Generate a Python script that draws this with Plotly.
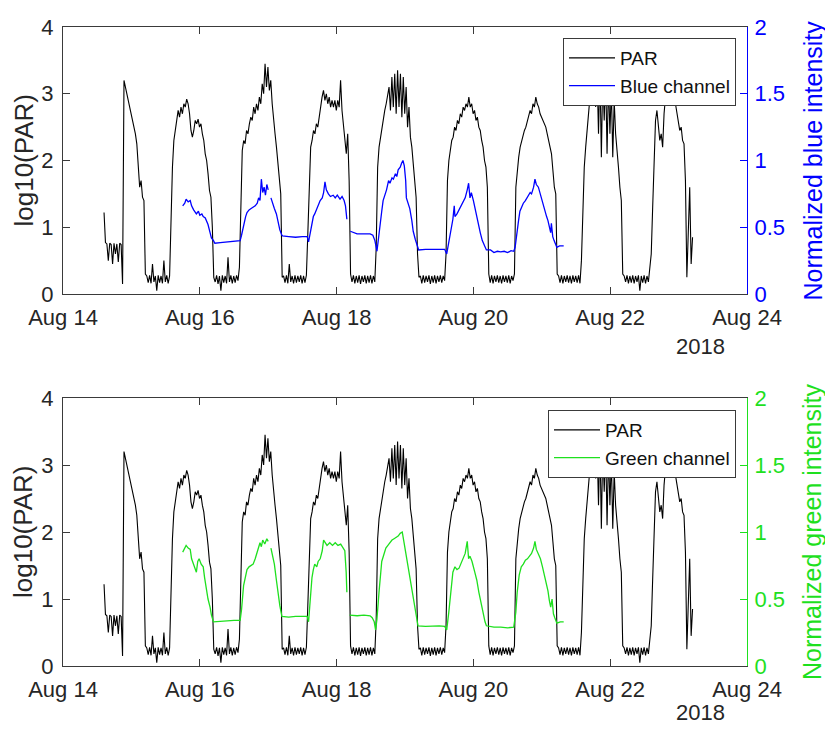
import numpy as np
import pandas as pd
import plotly.graph_objects as go

# ---------------- data ----------------
# PAR (log10) sampled every 30 min starting 2018-08-14 14:24; one list per daily cycle
par_aug14 = [1.22, 0.77, 0.75, 0.5, 0.76, 0.74, 0.45, 0.76, 0.6, 0.75, 0.48, 0.76, 0.74, 0.15,
             3.2, 3.1, 3.05, 2.95, 2.85, 2.72, 2.65, 2.55, 2.4, 2.25, 1.85, 1.6, 1.7, 1.45, 1.4, 0.3,
             0.27, 0.17, 0.28, 0.16, 0.45, 0.18, 0.27, 0.05, 0.28, 0.17, 0.27, 0.16, 0.5, 0.18, 0.28, 0.16, 0.27,
             1.2]
par_aug15 = [1.9, 2.3, 2.45, 2.6, 2.75, 2.65, 2.8, 2.7, 2.85, 2.8, 2.92, 2.85, 2.7, 2.45, 2.35,
             2.45, 2.6, 2.55, 2.62, 2.5, 2.55, 2.4, 2.3, 2.1, 2.0, 1.8, 1.55, 1.45, 1.0, 0.25,
             0.18, 0.28, 0.15, 0.27, 0.05, 0.28, 0.17, 0.27, 0.16, 0.55, 0.18, 0.28, 0.16, 0.27, 0.17, 0.28, 0.2,
             0.4]
par_aug16 = [1.3, 2.15, 2.3, 2.25, 2.45, 2.4, 2.55, 2.65, 2.6, 2.8, 2.7, 2.85, 2.75, 2.95, 2.85,
             3.15, 3.0, 3.45, 3.1, 3.4, 3.05, 3.2, 2.85, 2.55, 2.4, 2.2, 2.0, 1.75, 1.5, 0.25,
             0.27, 0.17, 0.28, 0.16, 0.45, 0.18, 0.27, 0.16, 0.28, 0.17, 0.27, 0.18, 0.28, 0.16, 0.27, 0.17, 0.28,
             0.9]
par_aug17 = [1.6, 2.2, 2.3, 2.45, 2.4, 2.55, 2.5, 2.7, 2.8, 2.95, 3.05, 2.9, 3.0, 2.85, 2.95,
             2.8, 2.9, 2.8, 2.9, 2.75, 2.9, 2.8, 3.2, 2.75, 2.5, 2.3, 2.1, 2.4, 1.7, 0.3,
             0.18, 0.28, 0.16, 0.27, 0.17, 0.28, 0.15, 0.27, 0.18, 0.28, 0.16, 0.27, 0.17, 0.28, 0.16, 0.27, 0.18,
             0.7]
par_aug18 = [1.9, 2.2, 2.35, 2.5, 2.6, 2.75, 2.85, 2.95, 3.1, 2.75, 3.25, 2.8, 3.3, 2.7, 3.35,
             2.8, 3.3, 2.65, 3.25, 2.7, 3.1, 2.5, 2.8, 2.35, 2.2, 1.95, 1.7, 1.45, 0.6, 0.25,
             0.27, 0.16, 0.28, 0.17, 0.27, 0.18, 0.28, 0.15, 0.27, 0.17, 0.28, 0.16, 0.27, 0.18, 0.28, 0.17, 0.27,
             0.2]
par_aug19 = [0.6, 1.7, 2.0, 2.2, 2.3, 2.35, 2.5, 2.45, 2.6, 2.55, 2.7, 2.65, 2.8, 2.75, 2.85,
             2.8, 2.95, 2.8, 2.85, 2.7, 2.75, 2.6, 2.65, 2.5, 2.45, 2.3, 2.2, 2.0, 1.9, 1.6,
             0.3, 0.17, 0.28, 0.16, 0.27, 0.18, 0.28, 0.17, 0.27, 0.16, 0.28, 0.18, 0.27, 0.17, 0.28, 0.16, 0.27,
             0.2]
par_aug20 = [0.3, 1.6, 1.9, 2.05, 2.2, 2.3, 2.35, 2.45, 2.5, 2.6, 2.65, 2.75, 2.7, 2.85, 2.8,
             2.95, 2.85, 2.8, 2.7, 2.65, 2.6, 2.55, 2.5, 2.4, 2.3, 2.2, 2.1, 1.85, 1.6, 1.5,
             0.3, 0.27, 0.17, 0.28, 0.16, 0.27, 0.18, 0.28, 0.17, 0.27, 0.16, 0.28, 0.18, 0.27, 0.17, 0.28, 0.16,
             0.5]
par_aug21 = [1.4, 1.9, 2.2, 2.5, 2.8, 2.95, 3.1, 3.2, 3.3, 2.8, 3.3, 2.4, 3.35, 2.05, 3.3,
             2.6, 3.3, 2.1, 3.2, 2.4, 3.1, 2.05, 2.9, 2.4, 2.2, 1.9, 1.6, 1.4, 0.3,
             0.27, 0.18, 0.28, 0.16, 0.27, 0.17, 0.28, 0.16, 0.27, 0.18, 0.28, 0.05, 0.27, 0.17, 0.28, 0.16, 0.27, 0.18,
             0.4]
par_aug22 = [0.6, 1.3, 1.9, 2.6, 2.75, 2.5, 2.3, 2.4, 2.2, 2.7, 2.95, 3.0, 2.95, 3.05, 2.9,
             3.0, 2.95, 2.85, 2.7, 2.55, 2.45, 2.5, 2.3, 2.25, 1.7, 0.25, 0.85, 1.6, 0.45, 0.85]

# Blue channel: time in days since 2018-08-14 00:00, normalized intensity (None = gap)
blue_day = [1.75, 1.78, 1.80, 1.83, 1.86, 1.88, 1.91, 1.93, 1.95, 1.98, 2.00, 2.03, 2.05, 2.08, 2.10,
            2.12, 2.15, 2.17, 2.20, 2.22, 2.30, 2.40, 2.50, 2.59, 2.61, 2.64, 2.67, 2.69, 2.72, 2.75,
            2.78, 2.81, 2.84, 2.86, 2.88, 2.90, 2.92, 2.94, 2.96, 2.98, 3.00, 3.01, 3.04, 3.06, 3.09,
            3.12, 3.15, 3.17, 3.20, 3.21, 3.30, 3.40, 3.50, 3.57, 3.59, 3.62, 3.64, 3.66, 3.68, 3.71,
            3.73, 3.76, 3.79, 3.81, 3.83, 3.85, 3.88, 3.91, 3.95, 3.98, 4.01, 4.05, 4.08, 4.11, 4.13,
            4.15, 4.17, 4.20, 4.30, 4.40, 4.49, 4.53, 4.56, 4.59, 4.61, 4.63, 4.66, 4.68, 4.71, 4.73,
            4.76, 4.78, 4.81, 4.83, 4.86, 4.88, 4.90, 4.93, 4.95, 4.97, 4.99, 5.01, 5.02, 5.05, 5.07,
            5.10, 5.12, 5.15, 5.17, 5.20, 5.30, 5.40, 5.50, 5.58, 5.61, 5.64, 5.66, 5.68, 5.70, 5.72,
            5.73, 5.76, 5.78, 5.81, 5.83, 5.86, 5.88, 5.91, 5.93, 5.95, 5.97, 6.00, 6.03, 6.05, 6.08,
            6.10, 6.13, 6.16, 6.19, 6.25, 6.30, 6.35, 6.40, 6.45, 6.50, 6.55, 6.59, 6.61, 6.63, 6.66,
            6.68, 6.71, 6.73, 6.76, 6.78, 6.81, 6.83, 6.85, 6.88, 6.90, 6.92, 6.95, 6.97, 7.00, 7.02,
            7.05, 7.07, 7.09, 7.11, 7.13, 7.14, 7.16, 7.18, 7.20, 7.22, 7.26, 7.32]
blue_val = [0.66, 0.68, 0.71, 0.69, 0.70, 0.66, 0.63, 0.61, 0.60, 0.62, 0.59, 0.60, 0.58, 0.57, 0.55,
            0.52, 0.46, 0.42, 0.40, 0.38, 0.385, 0.39, 0.40, 0.40, 0.44, 0.52, 0.58, 0.61, 0.63, 0.64,
            0.65, 0.66, 0.68, 0.72, 0.70, 0.86, 0.76, 0.80, 0.74, 0.82, 0.78, None, 0.72, 0.68, 0.64,
            0.60, 0.53, 0.48, 0.44, 0.435, 0.43, 0.425, 0.43, 0.43, 0.39, 0.47, 0.51, 0.58, 0.60, 0.64,
            0.66, 0.70, 0.72, 0.76, 0.84, 0.78, 0.75, 0.73, 0.74, 0.72, 0.74, 0.71, 0.73, 0.70, 0.66,
            0.56, None, 0.47, 0.45, 0.45, 0.45, 0.44, 0.40, 0.32, 0.42, 0.50, 0.62, 0.70, 0.75, 0.78,
            0.85, 0.83, 0.87, 0.86, 0.90, 0.88, 0.93, 0.95, 0.98, 1.00, 0.96, 0.85, 0.72, 0.68, 0.64,
            0.55, 0.47, 0.41, 0.38, 0.33, 0.335, 0.335, 0.34, 0.335, 0.30, 0.38, 0.45, 0.50, 0.56, 0.66,
            0.58, 0.60, 0.62, 0.64, 0.66, 0.70, 0.72, 0.78, 0.83, 0.72, 0.76, 0.70, 0.62, 0.58, 0.50,
            0.46, 0.40, 0.36, 0.33, 0.33, 0.31, 0.32, 0.315, 0.32, 0.31, 0.325, 0.32, 0.35, 0.45, 0.55,
            0.62, 0.66, 0.68, 0.70, 0.72, 0.74, 0.76, 0.75, 0.80, 0.86, 0.82, 0.80, 0.76, 0.70, 0.68,
            0.62, 0.58, 0.55, 0.50, 0.46, 0.53, 0.43, 0.40, 0.37, 0.35, 0.36, 0.36]

# Green channel
green_day = [1.75, 1.78, 1.80, 1.83, 1.86, 1.88, 1.91, 1.93, 1.95, 1.97, 1.99, 2.02, 2.05, 2.07, 2.10,
             2.12, 2.15, 2.17, 2.20, 2.30, 2.40, 2.50, 2.59, 2.61, 2.64, 2.66, 2.69, 2.72, 2.75, 2.78,
             2.81, 2.84, 2.86, 2.88, 2.90, 2.92, 2.95, 2.98, 3.00, 3.01, 3.04, 3.06, 3.09, 3.12, 3.14,
             3.17, 3.20, 3.30, 3.40, 3.50, 3.57, 3.59, 3.62, 3.64, 3.66, 3.68, 3.71, 3.73, 3.76, 3.79,
             3.81, 3.83, 3.86, 3.90, 3.94, 3.98, 4.02, 4.06, 4.09, 4.12, 4.14, 4.15, 4.17, 4.19, 4.30,
             4.40, 4.49, 4.52, 4.55, 4.57, 4.59, 4.62, 4.64, 4.66, 4.69, 4.72, 4.75, 4.78, 4.81, 4.84,
             4.87, 4.90, 4.93, 4.96, 4.98, 5.01, 5.03, 5.05, 5.07, 5.10, 5.12, 5.15, 5.17, 5.19, 5.30,
             5.40, 5.50, 5.58, 5.61, 5.64, 5.66, 5.68, 5.70, 5.73, 5.76, 5.79, 5.83, 5.86, 5.88, 5.91,
             5.93, 5.95, 5.98, 6.02, 6.05, 6.08, 6.11, 6.14, 6.17, 6.19, 6.30, 6.40, 6.50, 6.59, 6.62,
             6.64, 6.67, 6.70, 6.73, 6.76, 6.79, 6.82, 6.85, 6.88, 6.90, 6.92, 6.95, 6.98, 7.01, 7.04,
             7.07, 7.09, 7.11, 7.13, 7.15, 7.17, 7.19, 7.22, 7.27, 7.32]
green_val = [0.85, 0.88, 0.90, 0.88, 0.87, 0.80, 0.76, 0.72, 0.70, 0.78, 0.80, 0.76, 0.74, 0.66, 0.55,
             0.50, 0.44, 0.38, 0.33, 0.335, 0.34, 0.34, 0.34, 0.42, 0.60, 0.66, 0.72, 0.74, 0.75, 0.76,
             0.80, 0.85, 0.90, 0.92, 0.89, 0.94, 0.91, 0.95, 0.93, None, 0.88, 0.84, 0.76, 0.64, 0.55,
             0.45, 0.37, 0.365, 0.37, 0.37, 0.37, 0.33, 0.55, 0.66, 0.72, 0.76, 0.74, 0.78, 0.80, 0.86,
             0.94, 0.92, 0.90, 0.92, 0.90, 0.92, 0.90, 0.91, 0.88, 0.86, 0.70, 0.55, None, 0.38, 0.375,
             0.38, 0.375, 0.36, 0.33, 0.27, 0.35, 0.55, 0.70, 0.78, 0.83, 0.88, 0.90, 0.92, 0.94, 0.95,
             0.96, 0.97, 0.99, 1.00, 0.94, 0.85, 0.79, 0.72, 0.67, 0.57, 0.49, 0.40, 0.34, 0.30, 0.295,
             0.30, 0.30, 0.295, 0.27, 0.40, 0.50, 0.62, 0.70, 0.74, 0.72, 0.73, 0.78, 0.82, 0.84, 0.93,
             0.80, 0.82, 0.78, 0.70, 0.64, 0.55, 0.47, 0.40, 0.33, 0.30, 0.29, 0.29, 0.285, 0.29, 0.40,
             0.55, 0.68, 0.74, 0.76, 0.79, 0.80, 0.82, 0.84, 0.88, 0.93, 0.87, 0.84, 0.80, 0.74, 0.67,
             0.62, 0.56, 0.49, 0.44, 0.50, 0.39, 0.36, 0.32, 0.33, 0.33]

left_ticks = [0, 1, 2, 3, 4]
right_ticks = [0, 0.5, 1, 1.5, 2]
right_tick_text = ["0", "0.5", "1", "1.5", "2"]
x_range = ["2018-08-14", "2018-08-24"]

# ---------------- build series ----------------
base = pd.Timestamp("2018-08-14")
par_vals = (par_aug14 + par_aug15 + par_aug16 + par_aug17 + par_aug18 +
            par_aug19 + par_aug20 + par_aug21 + par_aug22)
par_start = base + pd.Timedelta(hours=14, minutes=24)
par_time = par_start + pd.to_timedelta(np.arange(len(par_vals)) * 30, unit="min")
blue_time = base + pd.to_timedelta(blue_day, unit="D")
green_time = base + pd.to_timedelta(green_day, unit="D")

BLACK = "#000000"
BLUE = "#0000ff"
GREEN = "#1ee01e"
AXC = "#3a3a3a"
TXT = "#262626"
FONT = "Liberation Sans, Arial, Helvetica, sans-serif"

fig = go.Figure()
fig.add_trace(go.Scatter(x=par_time, y=par_vals, mode="lines", name="PAR",
                         line=dict(color=BLACK, width=1.1), xaxis="x", yaxis="y", legend="legend"))
fig.add_trace(go.Scatter(x=blue_time, y=blue_val, mode="lines", name="Blue channel",
                         line=dict(color=BLUE, width=1.3), xaxis="x", yaxis="y2", legend="legend",
                         connectgaps=False))
fig.add_trace(go.Scatter(x=par_time, y=par_vals, mode="lines", name="PAR",
                         line=dict(color=BLACK, width=1.1), xaxis="x2", yaxis="y3", legend="legend2"))
fig.add_trace(go.Scatter(x=green_time, y=green_val, mode="lines", name="Green channel",
                         line=dict(color=GREEN, width=1.3), xaxis="x2", yaxis="y4", legend="legend2",
                         connectgaps=False))

W, H = 825, 729
L, R, T, B = 63, 747, 27, 666
pw, ph = R - L, B - T


def py(y):
    return (B - y) / ph


def px(x):
    return (x - L) / pw


TICKFONT = 22
xcommon = dict(type="date", range=x_range, tick0="2018-08-14", dtick=2 * 86400000,
               tickformat="%b %d", ticks="inside", ticklen=7, tickcolor=AXC,
               showline=True, linecolor=AXC, linewidth=1, mirror="ticks",
               showgrid=False, zeroline=False, automargin=False,
               tickfont=dict(family=FONT, size=TICKFONT, color=TXT), ticklabelstandoff=4)
yleft = dict(range=[0, 4], tickvals=left_ticks, ticks="inside", ticklen=7, tickcolor=AXC,
             showline=True, linecolor=AXC, linewidth=1, showgrid=False, zeroline=False,
             automargin=False, tickfont=dict(family=FONT, size=TICKFONT, color=TXT), ticklabelstandoff=4)


def yright(color, over):
    return dict(range=[0, 2], tickvals=right_ticks, ticktext=right_tick_text, side="right",
                overlaying=over, ticks="inside", ticklen=7, tickcolor=color,
                showline=True, linecolor=color, linewidth=1, showgrid=False, zeroline=False,
                automargin=False, tickfont=dict(family=FONT, size=TICKFONT, color=color),
                ticklabelstandoff=2)


top_dom = [py(294), 1.0]
bot_dom = [0.0, py(398)]

legend_style = dict(xanchor="right", yanchor="top", bgcolor="white",
                    bordercolor=AXC, borderwidth=1, font=dict(family=FONT, size=19, color="#111"),
                    tracegroupgap=0, itemwidth=46)

fig.update_layout(
    width=W, height=H,
    margin=dict(l=L, r=W - R, t=T, b=H - B),
    paper_bgcolor="white", plot_bgcolor="white",
    font=dict(family=FONT, color=TXT),
    xaxis=dict(xcommon, domain=[0, 1], anchor="y"),
    yaxis=dict(yleft, domain=top_dom, anchor="x"),
    yaxis2=dict(yright(BLUE, "y"), anchor="x"),
    xaxis2=dict(xcommon, domain=[0, 1], anchor="y3"),
    yaxis3=dict(yleft, domain=bot_dom, anchor="x2"),
    yaxis4=dict(yright(GREEN, "y3"), anchor="x2"),
    legend=dict(legend_style, x=px(736), y=py(38)),
    legend2=dict(legend_style, x=px(736), y=py(410)),
    showlegend=True,
)

ann = []
for yc, rt, rc in [((27 + 294) / 2, "Normalized blue intensity", BLUE),
                   ((398 + 666) / 2, "Normalized green intensity", GREEN)]:
    ann.append(dict(text="log10(PAR)", x=px(23), y=py(yc), xref="paper", yref="paper",
                    showarrow=False, textangle=-90, font=dict(family=FONT, size=26, color=TXT),
                    xanchor="center", yanchor="middle"))
    ann.append(dict(text=rt, x=px(812), y=py(yc), xref="paper", yref="paper",
                    showarrow=False, textangle=-90, font=dict(family=FONT, size=25, color=rc),
                    xanchor="center", yanchor="middle"))
for yy in [346, 712]:
    ann.append(dict(text="2018", x=px(700), y=py(yy), xref="paper", yref="paper",
                    showarrow=False, font=dict(family=FONT, size=TICKFONT, color=TXT),
                    xanchor="center", yanchor="middle"))
fig.update_layout(annotations=ann)

fig.write_html("out.html", config={"displayModeBar": False},
               post_script="document.body.style.margin='0px';")
